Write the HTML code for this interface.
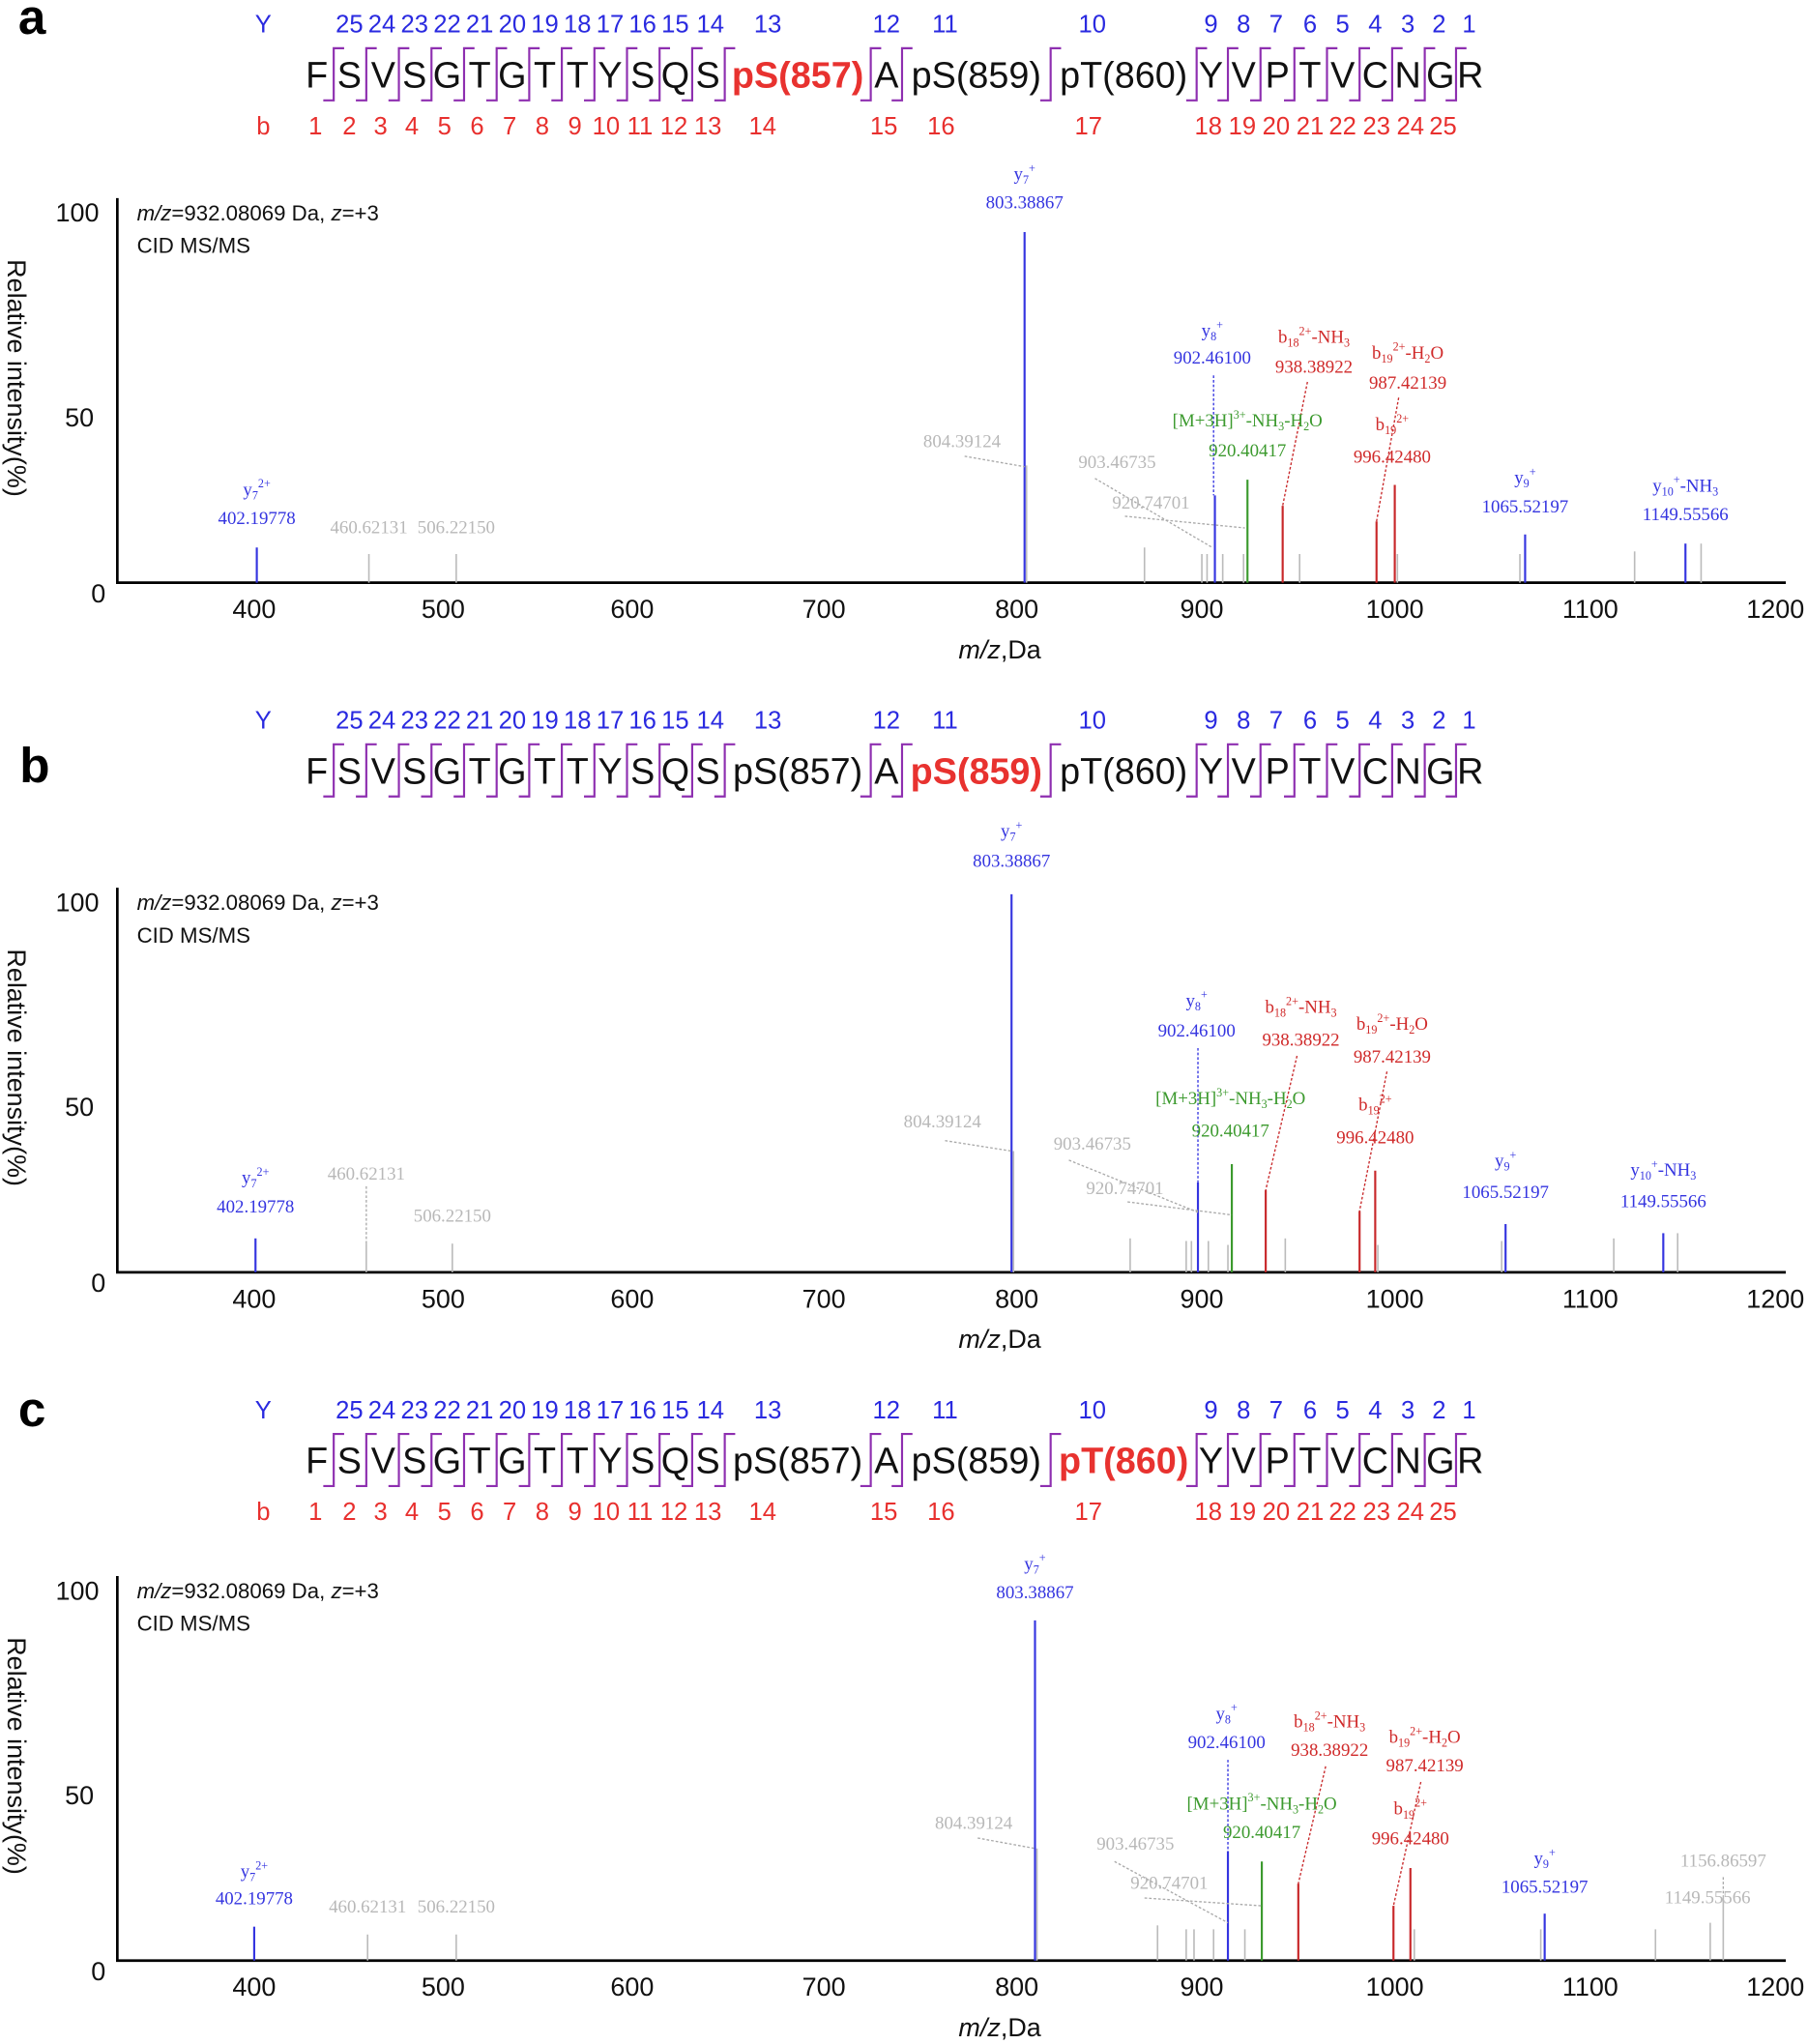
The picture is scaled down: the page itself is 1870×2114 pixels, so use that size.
<!DOCTYPE html>
<html><head><meta charset="utf-8"><style>
html,body{margin:0;padding:0;background:#fff;}
svg{display:block;}
.seq{font-family:"Liberation Sans",sans-serif;font-size:28px;fill:#111;text-anchor:middle;}
.yn{font-family:"Liberation Sans",sans-serif;font-size:19px;fill:#2a2ae0;text-anchor:middle;}
.bn{font-family:"Liberation Sans",sans-serif;font-size:19px;fill:#e8302e;text-anchor:middle;}
.ax{font-family:"Liberation Sans",sans-serif;font-size:20px;fill:#111;}
.info{font-family:"Liberation Sans",sans-serif;font-size:16.5px;fill:#111;}
.lb{font-family:"Liberation Serif",serif;font-size:14px;text-anchor:middle;}
.bl{fill:#3535e0}.rd{fill:#d02a2a}.gr{fill:#3c9a2e}.gy{fill:#b8b8b8}
.pl{font-family:"Liberation Sans",sans-serif;font-size:38px;font-weight:bold;fill:#000;}
</style></head><body>
<svg width="1870" height="2114" viewBox="0 0 1387 1568" xmlns="http://www.w3.org/2000/svg">
<defs>
<path id="br" d="M8,-20 H0 V20 H-8" fill="none" stroke="#8e2fb0" stroke-width="1.6"/>
<g id="brs">
<use href="#br" x="256"/><use href="#br" x="281"/><use href="#br" x="306"/><use href="#br" x="331"/><use href="#br" x="356"/><use href="#br" x="381"/><use href="#br" x="406"/><use href="#br" x="431"/><use href="#br" x="456"/><use href="#br" x="481"/><use href="#br" x="506"/><use href="#br" x="531"/><use href="#br" x="556"/><use href="#br" x="668"/><use href="#br" x="692"/><use href="#br" x="806"/><use href="#br" x="918"/><use href="#br" x="942"/><use href="#br" x="967"/><use href="#br" x="993"/><use href="#br" x="1018"/><use href="#br" x="1043"/><use href="#br" x="1068"/><use href="#br" x="1093"/><use href="#br" x="1117"/>
</g>
<g id="frame">
<line x1="90" y1="152" x2="90" y2="447" stroke="#000" stroke-width="2"/>
<line x1="89" y1="447" x2="1370" y2="447" stroke="#000" stroke-width="2"/>
<g class="ax" text-anchor="middle">
<text x="195" y="474">400</text><text x="340" y="474">500</text><text x="485" y="474">600</text><text x="632" y="474">700</text><text x="780" y="474">800</text><text x="922" y="474">900</text><text x="1070" y="474">1000</text><text x="1220" y="474">1100</text><text x="1362" y="474">1200</text>
</g>
<g class="ax" text-anchor="end"><text x="76" y="170">100</text><text x="72" y="327">50</text><text x="81" y="462">0</text></g>
<text class="ax" transform="translate(6,290) rotate(90)" text-anchor="middle">Relative intensity(%)</text>
<text class="ax" x="767" y="505" text-anchor="middle"><tspan font-style="italic">m/z</tspan>,Da</text>
<text class="info" x="105" y="169"><tspan font-style="italic">m/z</tspan>=932.08069 Da, <tspan font-style="italic">z</tspan>=+3</text>
<text class="info" x="105" y="194">CID MS/MS</text>
</g>
<g id="ynums" class="yn">
<text x="202" y="25">Y</text><text x="268" y="25">25</text><text x="293" y="25">24</text><text x="318" y="25">23</text><text x="343" y="25">22</text><text x="368" y="25">21</text><text x="393" y="25">20</text><text x="418" y="25">19</text><text x="443" y="25">18</text><text x="468" y="25">17</text><text x="493" y="25">16</text><text x="518" y="25">15</text><text x="545" y="25">14</text><text x="589" y="25">13</text><text x="680" y="25">12</text><text x="725" y="25">11</text><text x="838" y="25">10</text><text x="929" y="25">9</text><text x="954" y="25">8</text><text x="979" y="25">7</text><text x="1005" y="25">6</text><text x="1030" y="25">5</text><text x="1055" y="25">4</text><text x="1080" y="25">3</text><text x="1104" y="25">2</text><text x="1127" y="25">1</text>
</g>
<g id="bnums" class="bn">
<text x="202" y="103">b</text><text x="242" y="103">1</text><text x="268" y="103">2</text><text x="292" y="103">3</text><text x="316" y="103">4</text><text x="341" y="103">5</text><text x="366" y="103">6</text><text x="391" y="103">7</text><text x="416" y="103">8</text><text x="441" y="103">9</text><text x="465" y="103">10</text><text x="491" y="103">11</text><text x="517" y="103">12</text><text x="543" y="103">13</text><text x="585" y="103">14</text><text x="678" y="103">15</text><text x="722" y="103">16</text><text x="835" y="103">17</text><text x="927" y="103">18</text><text x="953" y="103">19</text><text x="979" y="103">20</text><text x="1005" y="103">21</text><text x="1030" y="103">22</text><text x="1056" y="103">23</text><text x="1082" y="103">24</text><text x="1107" y="103">25</text>
</g>
<g id="seqbase" class="seq">
<text x="243" y="67">F</text><text x="268" y="67">S</text><text x="294" y="67">V</text><text x="318" y="67">S</text><text x="343" y="67">G</text><text x="368" y="67">T</text><text x="393" y="67">G</text><text x="418" y="67">T</text><text x="443" y="67">T</text><text x="468" y="67">Y</text><text x="493" y="67">S</text><text x="518" y="67">Q</text><text x="543" y="67">S</text><text x="680" y="67">A</text><text x="929" y="67">Y</text><text x="954" y="67">V</text><text x="980" y="67">P</text><text x="1005" y="67">T</text><text x="1030" y="67">V</text><text x="1055" y="67">C</text><text x="1080" y="67">N</text><text x="1105" y="67">G</text><text x="1128" y="67">R</text>
</g>
</defs>

<!-- Panel a -->
<text class="pl" x="14" y="26">a</text>
<use href="#ynums"/><use href="#bnums"/><use href="#seqbase"/><use href="#brs" y="57"/>
<text class="seq" x="612" y="67" style="fill:#e8322f;font-weight:bold">pS(857)</text>
<text class="seq" x="749" y="67">pS(859)</text>
<text class="seq" x="862" y="67">pT(860)</text>
<use href="#frame"/>
<g stroke-width="1.2">
<g stroke="#bbb"><line x1="283" y1="447" x2="283" y2="425"/><line x1="350" y1="447" x2="350" y2="425"/><line x1="787.5" y1="447" x2="787.5" y2="357"/><line x1="878" y1="447" x2="878" y2="420"/><line x1="922" y1="447" x2="922" y2="425"/><line x1="926" y1="447" x2="926" y2="425"/><line x1="938" y1="447" x2="938" y2="425"/><line x1="954" y1="447" x2="954" y2="425"/><line x1="997" y1="447" x2="997" y2="425"/><line x1="1072" y1="447" x2="1072" y2="425"/><line x1="1166" y1="447" x2="1166" y2="425"/><line x1="1254" y1="447" x2="1254" y2="423"/><line x1="1305" y1="447" x2="1305" y2="417"/></g>
<g stroke="#3535e0" stroke-width="1.6"><line x1="197" y1="447" x2="197" y2="420"/><line x1="786" y1="447" x2="786" y2="178"/><line x1="932" y1="447" x2="932" y2="380"/><line x1="1170" y1="447" x2="1170" y2="410"/><line x1="1293" y1="447" x2="1293" y2="417"/></g>
<line x1="957" y1="447" x2="957" y2="368" stroke="#3c9a2e" stroke-width="1.6"/>
<g stroke="#c8282a" stroke-width="1.6"><line x1="984" y1="447" x2="984" y2="388"/><line x1="1056" y1="447" x2="1056" y2="400"/><line x1="1070" y1="447" x2="1070" y2="372"/></g>
<g stroke-dasharray="2,1.5" stroke-width="1"><line x1="931" y1="288" x2="931" y2="380" stroke="#3535e0"/><line x1="1003" y1="293" x2="984" y2="388" stroke="#c8282a"/><line x1="1073" y1="305" x2="1056" y2="400" stroke="#c8282a"/><line x1="740" y1="350" x2="786" y2="358" stroke="#aaa"/><line x1="840" y1="367" x2="930" y2="420" stroke="#aaa"/><line x1="863" y1="396" x2="955" y2="405" stroke="#aaa"/></g>
</g>
<g class="lb">
<text class="bl" x="197" y="380">y<tspan font-size="9" dy="3">7</tspan><tspan font-size="9" dy="-9">2+</tspan></text><text class="bl" x="197" y="402">402.19778</text>
<text class="gy" x="283" y="409">460.62131</text><text class="gy" x="350" y="409">506.22150</text>
<text class="bl" x="786" y="138">y<tspan font-size="9" dy="3">7</tspan><tspan font-size="9" dy="-9">+</tspan></text><text class="bl" x="786" y="160">803.38867</text>
<text class="gy" x="738" y="343">804.39124</text>
<text class="bl" x="930" y="258">y<tspan font-size="9" dy="3">8</tspan><tspan font-size="9" dy="-9">+</tspan></text><text class="bl" x="930" y="279">902.46100</text>
<text class="rd" x="1008" y="263">b<tspan font-size="9" dy="3">18</tspan><tspan font-size="9" dy="-9">2+</tspan><tspan dy="6">-NH</tspan><tspan font-size="9" dy="3">3</tspan></text><text class="rd" x="1008" y="286">938.38922</text>
<text class="rd" x="1080" y="275">b<tspan font-size="9" dy="3">19</tspan><tspan font-size="9" dy="-9">2+</tspan><tspan dy="6">-H</tspan><tspan font-size="9" dy="3">2</tspan><tspan dy="-3">O</tspan></text><text class="rd" x="1080" y="298">987.42139</text>
<text class="gr" x="957" y="327">[M+3H]<tspan font-size="9" dy="-6">3+</tspan><tspan dy="6">-NH</tspan><tspan font-size="9" dy="3">3</tspan><tspan dy="-3">-H</tspan><tspan font-size="9" dy="3">2</tspan><tspan dy="-3">O</tspan></text><text class="gr" x="957" y="350">920.40417</text>
<text class="rd" x="1068" y="330">b<tspan font-size="9" dy="3">19</tspan><tspan font-size="9" dy="-9">2+</tspan></text><text class="rd" x="1068" y="355">996.42480</text>
<text class="gy" x="857" y="359">903.46735</text><text class="gy" x="883" y="390">920.74701</text>
<text class="bl" x="1170" y="371">y<tspan font-size="9" dy="3">9</tspan><tspan font-size="9" dy="-9">+</tspan></text><text class="bl" x="1170" y="393">1065.52197</text>
<text class="bl" x="1293" y="377">y<tspan font-size="9" dy="3">10</tspan><tspan font-size="9" dy="-9">+</tspan><tspan dy="6">-NH</tspan><tspan font-size="9" dy="3">3</tspan></text><text class="bl" x="1293" y="399">1149.55566</text>
</g>

<!-- Panel b -->
<text class="pl" x="15" y="600">b</text>
<use href="#ynums" y="534"/><use href="#seqbase" y="534"/><use href="#brs" y="591"/>
<text class="seq" x="612" y="601">pS(857)</text>
<text class="seq" x="749" y="601" style="fill:#e8322f;font-weight:bold">pS(859)</text>
<text class="seq" x="862" y="601">pT(860)</text>
<use href="#frame" y="529"/>
<g stroke-width="1.2">
<g stroke="#bbb"><line x1="281" y1="976" x2="281" y2="954"/><line x1="347" y1="976" x2="347" y2="954"/><line x1="777.5" y1="976" x2="777.5" y2="883"/><line x1="867" y1="976" x2="867" y2="950"/><line x1="910" y1="976" x2="910" y2="952"/><line x1="914" y1="976" x2="914" y2="952"/><line x1="927" y1="976" x2="927" y2="952"/><line x1="942" y1="976" x2="942" y2="955"/><line x1="986" y1="976" x2="986" y2="950"/><line x1="1057" y1="976" x2="1057" y2="955"/><line x1="1152" y1="976" x2="1152" y2="952"/><line x1="1238" y1="976" x2="1238" y2="950"/><line x1="1287" y1="976" x2="1287" y2="946"/></g>
<g stroke="#3535e0" stroke-width="1.6"><line x1="196" y1="976" x2="196" y2="950"/><line x1="776" y1="976" x2="776" y2="686"/><line x1="919" y1="976" x2="919" y2="907"/><line x1="1155" y1="976" x2="1155" y2="939"/><line x1="1276" y1="976" x2="1276" y2="946"/></g>
<line x1="945" y1="976" x2="945" y2="893" stroke="#3c9a2e" stroke-width="1.6"/>
<g stroke="#c8282a" stroke-width="1.6"><line x1="971" y1="976" x2="971" y2="913"/><line x1="1043" y1="976" x2="1043" y2="929"/><line x1="1055" y1="976" x2="1055" y2="898"/></g>
<g stroke-dasharray="2,1.5" stroke-width="1"><line x1="919" y1="804" x2="919" y2="907" stroke="#3535e0"/><line x1="281" y1="910" x2="281" y2="954" stroke="#aaa"/><line x1="995" y1="810" x2="971" y2="913" stroke="#c8282a"/><line x1="1064" y1="822" x2="1043" y2="929" stroke="#c8282a"/><line x1="725" y1="875" x2="776" y2="883" stroke="#aaa"/><line x1="820" y1="890" x2="919" y2="930" stroke="#aaa"/><line x1="865" y1="922" x2="945" y2="932" stroke="#aaa"/></g>
</g>
<g class="lb">
<text class="bl" x="196" y="908">y<tspan font-size="9" dy="3">7</tspan><tspan font-size="9" dy="-9">2+</tspan></text><text class="bl" x="196" y="930">402.19778</text>
<text class="gy" x="281" y="905">460.62131</text><text class="gy" x="347" y="937">506.22150</text>
<text class="bl" x="776" y="642">y<tspan font-size="9" dy="3">7</tspan><tspan font-size="9" dy="-9">+</tspan></text><text class="bl" x="776" y="665">803.38867</text>
<text class="gy" x="723" y="865">804.39124</text>
<text class="bl" x="918" y="772">y<tspan font-size="9" dy="3">8</tspan><tspan font-size="9" dy="-9">+</tspan></text><text class="bl" x="918" y="795">902.46100</text>
<text class="rd" x="998" y="777">b<tspan font-size="9" dy="3">18</tspan><tspan font-size="9" dy="-9">2+</tspan><tspan dy="6">-NH</tspan><tspan font-size="9" dy="3">3</tspan></text><text class="rd" x="998" y="802">938.38922</text>
<text class="rd" x="1068" y="790">b<tspan font-size="9" dy="3">19</tspan><tspan font-size="9" dy="-9">2+</tspan><tspan dy="6">-H</tspan><tspan font-size="9" dy="3">2</tspan><tspan dy="-3">O</tspan></text><text class="rd" x="1068" y="815">987.42139</text>
<text class="gr" x="944" y="847">[M+3H]<tspan font-size="9" dy="-6">3+</tspan><tspan dy="6">-NH</tspan><tspan font-size="9" dy="3">3</tspan><tspan dy="-3">-H</tspan><tspan font-size="9" dy="3">2</tspan><tspan dy="-3">O</tspan></text><text class="gr" x="944" y="872">920.40417</text>
<text class="rd" x="1055" y="852">b<tspan font-size="9" dy="3">19</tspan><tspan font-size="9" dy="-9">2+</tspan></text><text class="rd" x="1055" y="877">996.42480</text>
<text class="gy" x="838" y="882">903.46735</text><text class="gy" x="863" y="916">920.74701</text>
<text class="bl" x="1155" y="895">y<tspan font-size="9" dy="3">9</tspan><tspan font-size="9" dy="-9">+</tspan></text><text class="bl" x="1155" y="919">1065.52197</text>
<text class="bl" x="1276" y="902">y<tspan font-size="9" dy="3">10</tspan><tspan font-size="9" dy="-9">+</tspan><tspan dy="6">-NH</tspan><tspan font-size="9" dy="3">3</tspan></text><text class="bl" x="1276" y="926">1149.55566</text>
</g>

<!-- Panel c -->
<text class="pl" x="14" y="1094">c</text>
<use href="#ynums" y="1063"/><use href="#bnums" y="1063"/><use href="#seqbase" y="1063"/><use href="#brs" y="1120"/>
<text class="seq" x="612" y="1130">pS(857)</text>
<text class="seq" x="749" y="1130">pS(859)</text>
<text class="seq" x="862" y="1130" style="fill:#e8322f;font-weight:bold">pT(860)</text>
<use href="#frame" y="1057"/>
<g stroke-width="1.2">
<g stroke="#bbb"><line x1="282" y1="1504" x2="282" y2="1484"/><line x1="350" y1="1504" x2="350" y2="1484"/><line x1="795.5" y1="1504" x2="795.5" y2="1418"/><line x1="888" y1="1504" x2="888" y2="1477"/><line x1="910" y1="1504" x2="910" y2="1480"/><line x1="916" y1="1504" x2="916" y2="1480"/><line x1="931" y1="1504" x2="931" y2="1480"/><line x1="955" y1="1504" x2="955" y2="1480"/><line x1="1085" y1="1504" x2="1085" y2="1480"/><line x1="1182" y1="1504" x2="1182" y2="1480"/><line x1="1270" y1="1504" x2="1270" y2="1480"/><line x1="1312" y1="1504" x2="1312" y2="1475"/><line x1="1322" y1="1504" x2="1322" y2="1455"/></g>
<g stroke="#3535e0" stroke-width="1.6"><line x1="195" y1="1504" x2="195" y2="1478"/><line x1="794" y1="1504" x2="794" y2="1243"/><line x1="942" y1="1504" x2="942" y2="1420"/><line x1="1185" y1="1504" x2="1185" y2="1468"/></g>
<line x1="968" y1="1504" x2="968" y2="1428" stroke="#3c9a2e" stroke-width="1.6"/>
<g stroke="#c8282a" stroke-width="1.6"><line x1="996" y1="1504" x2="996" y2="1445"/><line x1="1069" y1="1504" x2="1069" y2="1462"/><line x1="1082" y1="1504" x2="1082" y2="1433"/></g>
<g stroke-dasharray="2,1.5" stroke-width="1"><line x1="942" y1="1350" x2="942" y2="1420" stroke="#3535e0"/><line x1="1017" y1="1355" x2="996" y2="1445" stroke="#c8282a"/><line x1="1090" y1="1367" x2="1069" y2="1462" stroke="#c8282a"/><line x1="750" y1="1410" x2="794" y2="1418" stroke="#aaa"/><line x1="855" y1="1428" x2="942" y2="1475" stroke="#aaa"/><line x1="878" y1="1456" x2="968" y2="1462" stroke="#aaa"/><line x1="1322" y1="1440" x2="1322" y2="1455" stroke="#aaa"/></g>
</g>
<g class="lb">
<text class="bl" x="195" y="1440">y<tspan font-size="9" dy="3">7</tspan><tspan font-size="9" dy="-9">2+</tspan></text><text class="bl" x="195" y="1461">402.19778</text>
<text class="gy" x="282" y="1467">460.62131</text><text class="gy" x="350" y="1467">506.22150</text>
<text class="bl" x="794" y="1204">y<tspan font-size="9" dy="3">7</tspan><tspan font-size="9" dy="-9">+</tspan></text><text class="bl" x="794" y="1226">803.38867</text>
<text class="gy" x="747" y="1403">804.39124</text>
<text class="bl" x="941" y="1319">y<tspan font-size="9" dy="3">8</tspan><tspan font-size="9" dy="-9">+</tspan></text><text class="bl" x="941" y="1341">902.46100</text>
<text class="rd" x="1020" y="1325">b<tspan font-size="9" dy="3">18</tspan><tspan font-size="9" dy="-9">2+</tspan><tspan dy="6">-NH</tspan><tspan font-size="9" dy="3">3</tspan></text><text class="rd" x="1020" y="1347">938.38922</text>
<text class="rd" x="1093" y="1337">b<tspan font-size="9" dy="3">19</tspan><tspan font-size="9" dy="-9">2+</tspan><tspan dy="6">-H</tspan><tspan font-size="9" dy="3">2</tspan><tspan dy="-3">O</tspan></text><text class="rd" x="1093" y="1359">987.42139</text>
<text class="gr" x="968" y="1388">[M+3H]<tspan font-size="9" dy="-6">3+</tspan><tspan dy="6">-NH</tspan><tspan font-size="9" dy="3">3</tspan><tspan dy="-3">-H</tspan><tspan font-size="9" dy="3">2</tspan><tspan dy="-3">O</tspan></text><text class="gr" x="968" y="1410">920.40417</text>
<text class="rd" x="1082" y="1392">b<tspan font-size="9" dy="3">19</tspan><tspan font-size="9" dy="-9">2+</tspan></text><text class="rd" x="1082" y="1415">996.42480</text>
<text class="gy" x="871" y="1419">903.46735</text><text class="gy" x="897" y="1449">920.74701</text>
<text class="bl" x="1185" y="1430">y<tspan font-size="9" dy="3">9</tspan><tspan font-size="9" dy="-9">+</tspan></text><text class="bl" x="1185" y="1452">1065.52197</text>
<text class="gy" x="1322" y="1432">1156.86597</text><text class="gy" x="1310" y="1460">1149.55566</text>
</g>
</svg>
</body></html>
